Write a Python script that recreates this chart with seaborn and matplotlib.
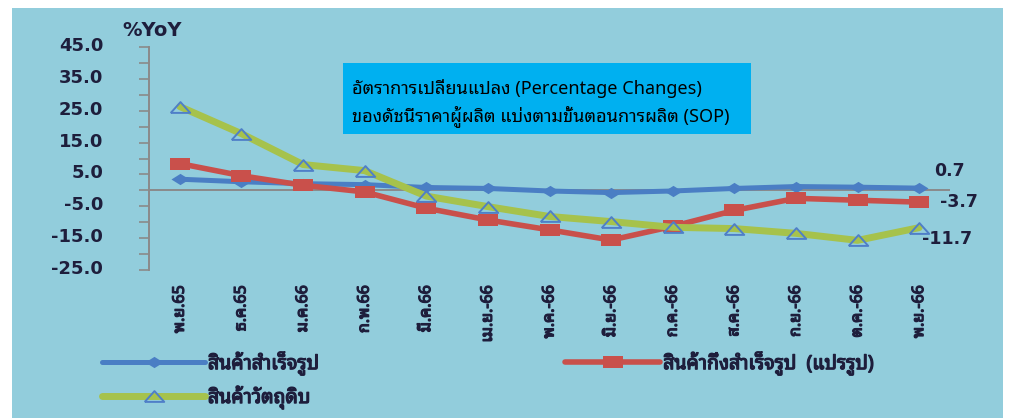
import matplotlib
matplotlib.use('Agg')
import matplotlib.pyplot as plt
import matplotlib.patheffects as pe
import matplotlib.transforms as mtransforms
import numpy as np
import pandas as pd
import seaborn as sns
from matplotlib.patches import Rectangle
from matplotlib.lines import Line2D

# ข้อมูล %YoY แยกตามขั้นตอนการผลิต
months = ['พ.ย.65', 'ธ.ค.65', 'ม.ค.66', 'ก.พ.66', 'มี.ค.66', 'เม.ย.-66', 'พ.ค.-66',
          'มิ.ย.-66', 'ก.ค.-66', 'ส.ค.-66', 'ก.ย.-66', 'ต.ค.-66', 'พ.ย.-66']
finished = [3.5, 2.7, 2.1, 1.8, 0.9, 0.6, -0.2, -0.7, -0.2, 0.6, 1.2, 1.0, 0.7]
semi = [8.4, 4.6, 1.6, -0.5, -5.6, -9.3, -12.4, -15.6, -11.3, -6.3, -2.5, -3.1, -3.7]
raw = [26.3, 17.8, 8.1, 6.2, -1.8, -5.1, -8.2, -9.8, -11.6, -12.0, -13.5, -15.7, -11.7]
series_names = ['สินค้าสำเร็จรูป', 'สินค้ากึ่งสำเร็จรูป  (แปรรูป)', 'สินค้าวัตถุดิบ']
yticks = [45, 35, 25, 15, 5, -5, -15, -25]

sns.set_theme(style='white')
plt.rcParams['font.family'] = ['DejaVu Sans', 'Noto Sans Thai Looped']
thai = ['Noto Sans Thai Looped', 'DejaVu Sans']
txt_col = '#1E1E3C'
# ตัวหนาจำลอง (ฟอนต์ไทยมีแค่น้ำหนักปกติ)
fake_bold = [pe.withStroke(linewidth=0.9, foreground=txt_col)]

df = pd.DataFrame({'x': np.arange(len(months)), 'finished': finished,
                   'semi': semi, 'raw': raw})

fig = plt.figure(figsize=(10.18, 4.18), dpi=100, facecolor='white')
fig.patches.append(Rectangle((12 / 1018, 0), 991 / 1018, 410 / 418,
                             transform=fig.transFigure, facecolor='#92CDDC',
                             edgecolor='none', zorder=-5))
ax = fig.add_axes([149 / 1018, 1 - 270 / 418, 801 / 1018, 223 / 418])
ax.set_facecolor('none')

diamond = [(-1.6, 0), (0, 1), (1.6, 0), (0, -1), (-1.6, 0)]
rect = [(-1.7, -1), (1.7, -1), (1.7, 1), (-1.7, 1), (-1.7, -1)]
tri = [(-1.8, -1), (1.8, -1), (0, 1), (-1.8, -1)]

ax.axhline(0, color='#8A8A8A', lw=1.4, zorder=1)

sns.lineplot(data=df, x='x', y='finished', ax=ax, color='#4A7EC4', lw=3.6,
             marker=diamond, markersize=13, markeredgewidth=0, sort=False,
             estimator=None, zorder=3)
sns.lineplot(data=df, x='x', y='semi', ax=ax, color='#C9504B', lw=4.0,
             marker=rect, markersize=14, markeredgewidth=0, sort=False,
             estimator=None, zorder=4)
sns.lineplot(data=df, x='x', y='raw', ax=ax, color='#A6C24C', lw=5,
             marker=tri, markersize=14, markerfacecolor='none',
             markeredgecolor='#4F7FC8', markeredgewidth=1.4, sort=False,
             estimator=None, zorder=5)

ax.set_xlim(-0.5, len(months) - 0.5)
ax.set_ylim(-25, 45)
ax.set_xticks(df['x'])
ax.set_xticklabels(months, rotation=90, family=thai, fontsize=11.5,
                   color=txt_col)
ax.tick_params(axis='x', length=0, pad=11)
ax.set_yticks(yticks)
ax.set_yticks(np.arange(-25, 46, 5), minor=True)
ax.set_yticklabels([f'{v:.1f}' for v in yticks], fontweight='bold',
                   fontsize=13, color=txt_col)
ax.tick_params(axis='y', which='both', direction='out', length=7, width=1.2,
               color='#8A8A8A', pad=26, left=True)
ax.set_xlabel('')
ax.set_ylabel('')
for s in ['top', 'right', 'bottom']:
    ax.spines[s].set_visible(False)
ax.spines['left'].set_color('#8A8A8A')
ax.spines['left'].set_linewidth(1.4)

for t in ax.get_xticklabels():
    t.set_path_effects(fake_bold)
# ป้ายแกน y อยู่สูงกว่าขีดเล็กน้อย
lift = mtransforms.ScaledTranslation(0, 3 / 100, fig.dpi_scale_trans)
for t in ax.get_yticklabels():
    t.set_transform(t.get_transform() + lift)

# ค่าล่าสุดด้านขวา
last = len(months) - 1
for vals, off in [(finished, (11, 12)), (semi, (15, 0)), (raw, (2, -8))]:
    ax.annotate(f'{vals[-1]:.1f}', (last, vals[-1]), xytext=off,
                textcoords='offset points', ha='left', va='center',
                fontsize=12.5, fontweight='bold', color=txt_col)

fig.text(122 / 1018, 1 - 30 / 418, '%YoY', ha='left', va='center',
         fontsize=14, fontweight='bold', color=txt_col)

# กล่องชื่อกราฟ
fig.patches.append(Rectangle((343 / 1018, 1 - 134 / 418), 408 / 1018, 71 / 418,
                             transform=fig.transFigure, facecolor='#00B0F0',
                             edgecolor='none', zorder=1))
fig.text(352 / 1018, 1 - 89 / 418, 'อัตราการเปลี่ยนแปลง (Percentage Changes)',
         ha='left', va='center', fontsize=13, color='black',
         family=thai, zorder=2)
fig.text(352 / 1018, 1 - 116 / 418, 'ของดัชนีราคาผู้ผลิต แบ่งตามขั้นตอนการผลิต (SOP)',
         ha='left', va='center', fontsize=13, color='black',
         family=thai, zorder=2)

h_fin = Line2D([], [], color='#4A7EC4', lw=3.6, marker=diamond, markersize=13,
               markeredgewidth=0)
h_semi = Line2D([], [], color='#C9504B', lw=4.0, marker=rect, markersize=14,
                markeredgewidth=0)
h_raw = Line2D([], [], color='#A6C24C', lw=5, marker=tri, markersize=14,
               markerfacecolor='none', markeredgecolor='#4F7FC8',
               markeredgewidth=1.4)
leg_prop = {'family': thai, 'size': 14}
leg1 = fig.legend([h_fin, h_raw], [series_names[0], series_names[2]],
                  loc='upper left', bbox_to_anchor=(102 / 1018, 1 - 352 / 418),
                  frameon=False, prop=leg_prop, handlelength=5.3,
                  handletextpad=0.15, borderpad=0, borderaxespad=0,
                  labelspacing=0.55, numpoints=1, labelcolor=txt_col)
leg2 = fig.legend([h_semi], [series_names[1]], loc='upper left',
                  bbox_to_anchor=(565 / 1018, 1 - 352 / 418), frameon=False,
                  prop=leg_prop, handlelength=4.9, handletextpad=0.15,
                  borderpad=0, borderaxespad=0, numpoints=1,
                  labelcolor=txt_col)
for leg in (leg1, leg2):
    for t in leg.get_texts():
        t.set_path_effects(fake_bold)

fig.savefig('out.png', dpi=100, facecolor='white')
